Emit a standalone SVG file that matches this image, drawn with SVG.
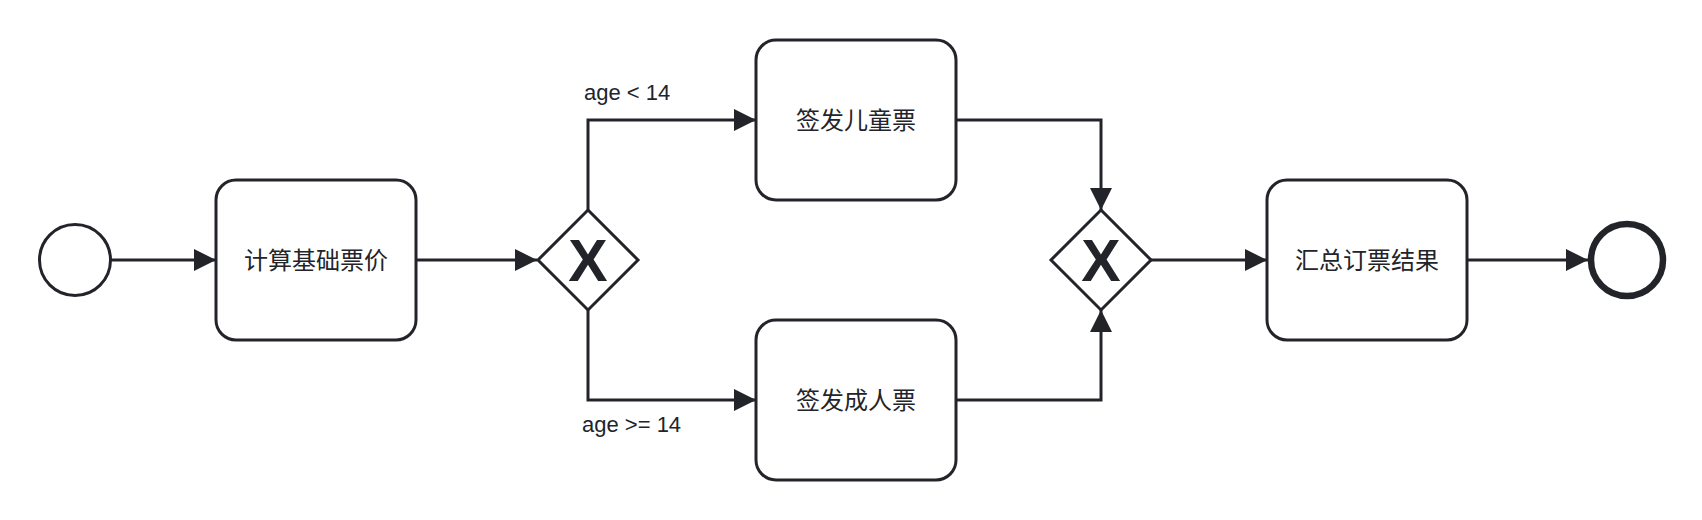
<svg xmlns="http://www.w3.org/2000/svg" width="1702" height="520" viewBox="0 0 1702 520">
<style>
.task{fill:#fff;stroke:#22242a;stroke-width:3}
.ev{fill:#fff;stroke:#22242a}
.gw{fill:#fff;stroke:#22242a;stroke-width:3;stroke-linejoin:miter}
.lbl{font-family:"Liberation Sans","Noto Sans CJK SC",sans-serif;fill:#22242a;font-size:24px;text-anchor:middle;dominant-baseline:central}
.gx{font-family:"Liberation Sans",Arial,sans-serif;font-weight:bold;fill:#22242a;font-size:59px;text-anchor:middle}
.cl{font-family:"Liberation Sans",Arial,sans-serif;fill:#22242a;font-size:22px}
.flow{fill:none;stroke:#22242a;stroke-width:3;marker-end:url(#arr)}
</style>
<defs>
<marker id="arr" markerUnits="userSpaceOnUse" markerWidth="22" markerHeight="22" viewBox="0 0 20 20" refX="20" refY="10" orient="auto">
<path d="M0,0 L20,10 L0,20 z" fill="#22242a"/>
</marker>
</defs>
<rect width="1702" height="520" fill="#fff"/>
<g id="connectors">
<path class="flow" d="M111,260 L216,260"/>
<path class="flow" d="M416,260 L537,260"/>
<path class="flow" d="M588,210 L588,120 L756,120"/>
<path class="flow" d="M588,310 L588,400 L756,400"/>
<path class="flow" d="M956,120 L1101,120 L1101,210"/>
<path class="flow" d="M956,400 L1101,400 L1101,310"/>
<path class="flow" d="M1151,260 L1267,260"/>
<path class="flow" d="M1467,260 L1588,260"/>
<text class="cl" x="584" y="100">age &lt; 14</text>
<text class="cl" x="582" y="432">age &gt;= 14</text>
</g>
<g id="start">
<circle class="ev" cx="75" cy="260" r="35.5" stroke-width="3"/>
</g>
<g id="task_calc">
<rect class="task" x="216" y="180" width="200" height="160" rx="20"/>
<text class="lbl" x="316" y="260">计算基础票价</text>
</g>
<g id="gw_split">
<path class="gw" d="M588,210 L638,260 L588,310 L538,260 z"/>
<text class="gx" x="588" y="281">X</text>
</g>
<g id="task_child">
<rect class="task" x="756" y="40" width="200" height="160" rx="20"/>
<text class="lbl" x="856" y="120">签发儿童票</text>
</g>
<g id="task_adult">
<rect class="task" x="756" y="320" width="200" height="160" rx="20"/>
<text class="lbl" x="856" y="400">签发成人票</text>
</g>
<g id="gw_join">
<path class="gw" d="M1101,210 L1151,260 L1101,310 L1051,260 z"/>
<text class="gx" x="1101" y="281">X</text>
</g>
<g id="task_sum">
<rect class="task" x="1267" y="180" width="200" height="160" rx="20"/>
<text class="lbl" x="1367" y="260">汇总订票结果</text>
</g>
<g id="end">
<circle class="ev" cx="1627" cy="260" r="36" stroke-width="6.5"/>
</g>
</svg>
